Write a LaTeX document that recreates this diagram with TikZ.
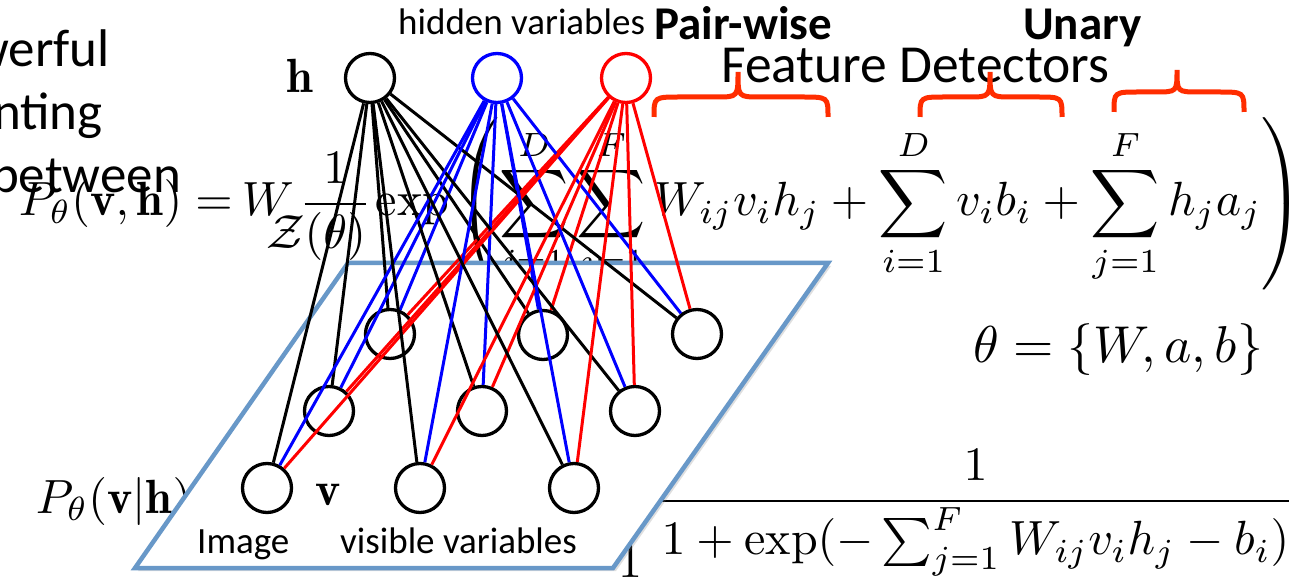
\documentclass[tikz,border=0pt]{standalone}
\usepackage{amsmath}
\usepackage{fontspec}
\setsansfont{Carlito}
\usetikzlibrary{shadows}
\definecolor{planeblue}{RGB}{104,152,200}
\definecolor{bracered}{RGB}{255,45,0}
\tikzset{
  unit/.style={circle, draw, line width=3.3pt, minimum size=49pt, inner sep=0pt},
  wblack/.style={line width=3pt, black},
  wblue/.style={line width=3pt, blue},
  wred/.style={line width=3pt, red},
  brace/.style={draw=bracered, line width=5pt},
  mathbig/.style={scale=4.8, transform shape, inner sep=0pt},
  slidetxt/.style={font=\sffamily\fontsize{53}{64}\selectfont, inner sep=0pt},
  labeltxt/.style={font=\sffamily\fontsize{37}{44}\selectfont, inner sep=0pt},
  boldtxt/.style={font=\sffamily\bfseries\fontsize{47}{56}\selectfont, inner sep=0pt},
  titletxt/.style={font=\sffamily\fontsize{53.5}{64}\selectfont, inner sep=0pt},
}
\begin{document}
\begin{tikzpicture}[x=1pt,y=-1pt]
\clip (0,0) rectangle (1309,577);
\fill[white] (0,0) rectangle (1309,577);
% slide text (cut at the left edge)
\node[slidetxt, anchor=base east] (t1) at (110,67) {werful};
\node[slidetxt, anchor=base east] (t2) at (103,130) {nting};
\node[slidetxt, anchor=base east] (t3) at (181,193) {between};
% top equation
\node[mathbig, anchor=base west] (eqL) at (18,216) {$P_\theta(\mathbf{v},\mathbf{h}) =$};
\node[mathbig, anchor=base west] (eqW) at (241,216) {$W$};
\node[mathbig, anchor=base west] (eqF) at (298,216) {$\displaystyle\frac{1}{\llap{$\mathcal{Z}$}(\theta)}$};
\node[mathbig, anchor=base west] (eqE) at (375,216) {$\displaystyle\exp\left(\sum_{i=1}^{D}\sum_{j=1}^{F}W_{ij}v_ih_j+\sum_{i=1}^{D}v_ib_i+\sum_{j=1}^{F}h_ja_j\right)$};
\node[mathbig, scale=1.08, anchor=base west] (theta) at (972,362) {$\theta = \{W,a,b\}$};
% conditional
\node[mathbig, anchor=base west] (cond) at (35,513) {$P_\theta(\mathbf{v}|\mathbf{h})$};
\node[mathbig, anchor=base] (one) at (630,577) {$1$};
\node[mathbig, anchor=base west] (sig) at (655,513) {$\displaystyle\frac{1}{1+\exp(-\sum_{j=1}^{F}W_{ij}v_ih_j-b_i)}$};
% image plane
\draw[planeblue, line width=4.5pt, fill=white,
      drop shadow={opacity=0.25, shadow xshift=3pt, shadow yshift=-3pt}]
  (348,263) -- (828,263) -- (613,568) -- (135,568) -- cycle;
% units
\node[unit] (h1) at (370,78) {};
\node[unit, draw=blue] (h2) at (497,78) {};
\node[unit, draw=red] (h3) at (626,78) {};
\node[unit] (v1) at (390,334) {};
\node[unit] (v2) at (543,335) {};
\node[unit] (v3) at (697,334) {};
\node[unit] (v4) at (329,411) {};
\node[unit] (v5) at (482,411) {};
\node[unit] (v6) at (635,411) {};
\node[unit] (v7) at (267,488) {};
\node[unit] (v8) at (420,488) {};
\node[unit] (v9) at (574,488) {};
\foreach \v in {v1,v2,v3,v4,v5,v6,v7,v8,v9} {
  \draw[wblack] (h1) -- (\v);
  \draw[wblue] (h2) -- (\v);
  \draw[wred] (h3) -- (\v);
}
% labels
\node[mathbig, anchor=base] (hl) at (300,93) {$\mathbf{h}$};
\node[mathbig, anchor=base] (vl) at (328,505) {$\mathbf{v}$};
\node[labeltxt, anchor=base west] (hid) at (398,35) {hidden variables};
\node[labeltxt, anchor=base west] (img) at (197,553) {Image};
\node[labeltxt, anchor=base west] (vis) at (340,553) {visible variables};
\node[boldtxt, anchor=base west] (pw) at (654,40) {Pair-wise};
\node[boldtxt, anchor=base west] (un) at (1023,40) {Unary};
\node[titletxt, anchor=base west] (fd) at (721,83) {Feature Detectors};
% braces
\draw[brace] (654,117) .. controls (654,97) .. (680,97) -- (716,97) .. controls (738,97) .. (738,72)
  .. controls (738,97) .. (760,97) -- (802,97) .. controls (828,97) .. (828,117);
\draw[brace] (920,117) .. controls (920,97) .. (945,97) -- (968,97) .. controls (990,97) .. (990,72)
  .. controls (990,97) .. (1012,97) -- (1037,97) .. controls (1062,97) .. (1062,117);
\draw[brace] (1114,112) .. controls (1114,92) .. (1139,92) -- (1155,92) .. controls (1177,92) .. (1177,70)
  .. controls (1177,92) .. (1199,92) -- (1218,92) .. controls (1244,92) .. (1244,112);
\end{tikzpicture}
\end{document}
